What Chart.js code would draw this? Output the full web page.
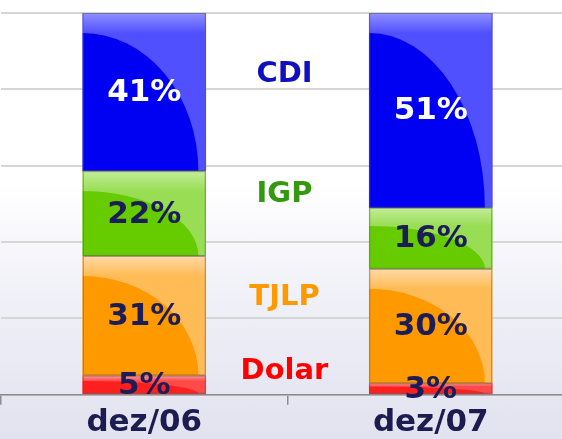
<!DOCTYPE html>
<html>
<head>
<meta charset="utf-8">
<script src="https://cdn.jsdelivr.net/npm/chart.js@4/dist/chart.umd.min.js"></script>
<style>
    html, body { margin: 0; padding: 0; overflow: hidden; }
    body {
        width: 562px; height: 439px;
        background: linear-gradient(to bottom, #ffffff 0%, #ffffff 42%, #f0f0f8 68%, #e2e2f0 100%);
    }
    #wrap { position: relative; width: 580px; height: 442px; }
</style>
</head>
<body>
<div id="wrap"><canvas id="debtChart" width="580" height="442"></canvas></div>
<script>
const categories = ['dez/06', 'dez/07'];
const seriesNames = ['Dolar', 'TJLP', 'IGP', 'CDI'];
const dolarValues = [5, 3];
const tjlpValues = [31, 30];
const igpValues = [22, 16];
const cdiValues = [41, 51];
// height (in % of the axis) where each series name sits between the bars
const nameLevels = [6, 25.5, 52.5, 84];

const seriesValues = [dolarValues, tjlpValues, igpValues, cdiValues];
const totals = categories.map((_, j) => seriesValues.reduce((s, v) => s + v[j], 0));

const shades = [
    { top: '#ff9a9a', mid: '#ff4a4a', dark: '#ff1f1f', text: '#1c1c58', name: '#ff0000' },
    { top: '#ffd9a6', mid: '#ffbb55', dark: '#ff9900', text: '#1c1c58', name: '#ff9900' },
    { top: '#c2ee98', mid: '#99dd55', dark: '#66cc00', text: '#1c1c58', name: '#339911' },
    { top: '#9090ff', mid: '#5050ff', dark: '#0000f2', text: '#ffffff', name: '#1010c0' },
];

const barShade = {
    id: 'barShade',
    afterDatasetsDraw(chart) {
        const ctx = chart.ctx;
        chart.data.datasets.forEach((ds, i) => {
            const meta = chart.getDatasetMeta(i);
            const pal = shades[i];
            meta.data.forEach((bar, j) => {
                const { x, y, base, width } = bar.getProps(['x', 'y', 'base', 'width'], true);
                const left = x - width / 2;
                const h = base - y;
                const band = Math.min(20, h * 0.3);

                ctx.save();
                ctx.beginPath();
                ctx.rect(left, y, width, h);
                ctx.clip();
                ctx.fillStyle = pal.mid;
                ctx.fillRect(left, y, width, h);
                ctx.fillStyle = pal.dark;
                ctx.beginPath();
                ctx.ellipse(left, base, width * 0.94, h - band, 0, 0, Math.PI * 2);
                ctx.fill();
                const g = ctx.createLinearGradient(0, y, 0, y + band);
                g.addColorStop(0, pal.top);
                g.addColorStop(1, pal.mid);
                ctx.fillStyle = g;
                ctx.fillRect(left, y, width, band);
                ctx.restore();

                ctx.strokeStyle = 'rgba(90,90,90,0.55)';
                ctx.lineWidth = 1;
                ctx.strokeRect(left + 0.5, y + 0.5, width - 1, h - 1);
            });
        });

        // percentage labels
        ctx.save();
        ctx.font = 'bold 31px "DejaVu Sans", Verdana, sans-serif';
        ctx.textAlign = 'center';
        ctx.textBaseline = 'middle';
        chart.data.datasets.forEach((ds, i) => {
            const meta = chart.getDatasetMeta(i);
            ctx.fillStyle = shades[i].text;
            meta.data.forEach((bar, j) => {
                const { x, y, base } = bar.getProps(['x', 'y', 'base'], true);
                ctx.fillText(seriesValues[i][j] + '%', x, (y + base) / 2 + 1);
            });
        });

        // series names between the two bars
        const xs = chart.scales.x;
        const ys = chart.scales.y;
        const midX = (xs.getPixelForValue(0) + xs.getPixelForValue(1)) / 2;
        ctx.font = 'bold 29px "DejaVu Sans", Verdana, sans-serif';
        seriesNames.forEach((name, i) => {
            ctx.fillStyle = shades[i].name;
            ctx.fillText(name, midX - 3, ys.getPixelForValue(nameLevels[i]));
        });
        ctx.restore();
    }
};

new Chart(document.getElementById('debtChart'), {
    type: 'bar',
    data: {
        labels: categories,
        datasets: seriesNames.map((name, i) => ({
            label: name,
            data: seriesValues[i].map((v, j) => v / totals[j] * 100),
            backgroundColor: shades[i].mid,
            borderWidth: 0,
            barThickness: 123,
        })),
    },
    options: {
        responsive: false,
        animation: false,
        layout: { padding: { top: 13, left: 1, right: 6, bottom: 0 } },
        plugins: { legend: { display: false }, tooltip: { enabled: false } },
        scales: {
            x: {
                stacked: true,
                grid: { drawOnChartArea: false, color: '#8c8c8c', tickLength: 10, lineWidth: 1.5 },
                border: { color: '#8c8c8c', width: 1.5 },
                ticks: {
                    color: '#1c1c50',
                    padding: 0,
                    font: { family: '"DejaVu Sans", Verdana, sans-serif', size: 31, weight: 'bold' },
                },
            },
            y: {
                stacked: true,
                min: 0,
                max: 100,
                ticks: { display: false, stepSize: 20 },
                grid: { color: '#d6d6d6', lineWidth: 2, drawTicks: false },
                border: { display: false },
            },
        },
    },
    plugins: [barShade],
});
</script>
</body>
</html>
